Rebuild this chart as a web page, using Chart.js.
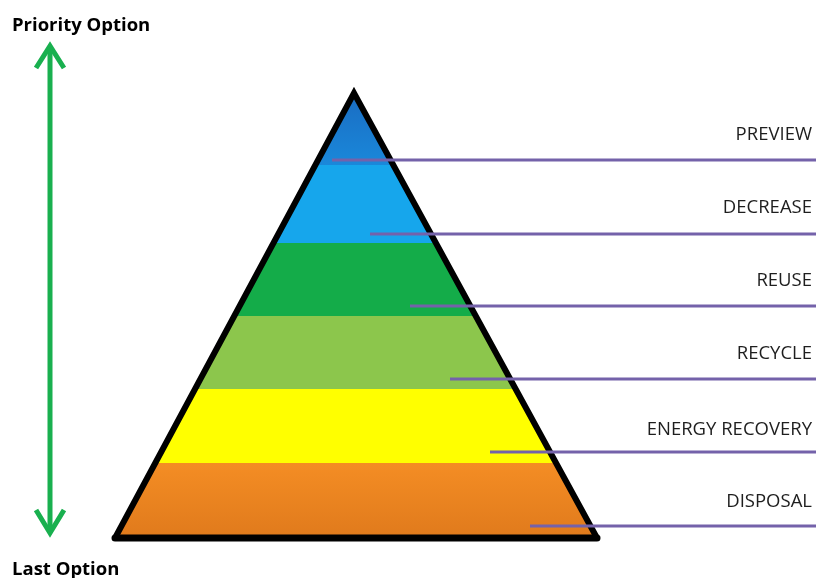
<!DOCTYPE html>
<html>
<head>
<meta charset="utf-8">
<script src="https://cdn.jsdelivr.net/npm/chart.js@4/dist/chart.umd.min.js"></script>
<style>
  html, body { margin: 0; padding: 0; background: #fff; }
  #wrap { width: 816px; height: 578px; }
</style>
</head>
<body>
<div id="wrap"><canvas id="pyramid" width="816" height="578"></canvas></div>
<script>
// waste hierarchy levels, top (priority) to bottom (last option)
const levels = ['PREVIEW', 'DECREASE', 'REUSE', 'RECYCLE', 'ENERGY RECOVERY', 'DISPOSAL'];
const bandColors = ['#1a78cc', '#16a6ec', '#14ac49', '#8cc64c', '#ffff00', '#f48d24'];
// band boundaries on the vertical axis (apex .. base)
const bandEdges = [93, 165, 243, 316, 389, 463, 538];
// pyramid outline: base left, apex, base right
const pyramidX = [115, 354, 597];
const pyramidY = [538, 93, 538];
// leader lines: start x and y for each level, label y
const leaderStartX = [332, 370, 410, 450, 490, 530];
const leaderY = [160, 234, 306, 379, 452, 526];
const labelY = [135, 208, 281, 354, 430, 502];
const topTitle = 'Priority Option';
const bottomTitle = 'Last Option';

const W = 816, H = 578;

function bandGradient(context) {
  const chart = context.chart;
  const { ctx, chartArea, scales } = chart;
  if (!chartArea) return bandColors[0];
  const y0 = scales.y.getPixelForValue(bandEdges[0]);
  const y1 = scales.y.getPixelForValue(bandEdges[bandEdges.length - 1]);
  const g = ctx.createLinearGradient(0, y0, 0, y1);
  const f = v => (scales.y.getPixelForValue(v) - y0) / (y1 - y0);
  for (let i = 0; i < levels.length; i++) {
    const a = f(bandEdges[i]), b = f(bandEdges[i + 1]);
    g.addColorStop(a, i === 0 ? '#1a6cc2' : bandColors[i]);
    g.addColorStop(b - 0.0005, i === 0 ? '#1a88da' : i === 5 ? '#e07a1c' : bandColors[i]);
  }
  g.addColorStop(1, '#e07a1c');
  return g;
}

const datasets = [];

levels.forEach((lvl, i) => {
  datasets.push({
    label: lvl,
    data: [{ x: leaderStartX[i], y: leaderY[i] }, { x: W, y: leaderY[i] }],
    borderColor: '#7462aa',
    borderWidth: 3,
    pointRadius: 0,
    fill: false,
    order: 0
  });
});

datasets.push({
  label: 'pyramid',
  data: pyramidX.map((x, i) => ({ x, y: pyramidY[i] })),
  borderColor: '#000',
  borderWidth: 6,
  borderJoinStyle: 'miter',
  backgroundColor: bandGradient,
  fill: { value: bandEdges[bandEdges.length - 1] },
  pointRadius: 0,
  tension: 0,
  order: 2
});
datasets.push({
  label: 'base',
  data: [{ x: pyramidX[0], y: pyramidY[0] }, { x: pyramidX[2], y: pyramidY[2] }],
  borderColor: '#000',
  borderWidth: 7,
  borderCapStyle: 'round',
  pointRadius: 0,
  fill: false,
  order: 1
});

// priority arrow
const arrowX = 50;
datasets.push({
  label: 'arrow',
  data: [{ x: arrowX, y: 46 }, { x: arrowX, y: 533 }],
  borderColor: '#19b04f', borderWidth: 5, pointRadius: 0, fill: false, order: 1
});
datasets.push({
  label: 'arrow-top',
  data: [{ x: 36, y: 68 }, { x: arrowX, y: 46 }, { x: 64, y: 68 }],
  borderColor: '#19b04f', borderWidth: 5, borderJoinStyle: 'miter', pointRadius: 0, fill: false, order: 1
});
datasets.push({
  label: 'arrow-bottom',
  data: [{ x: 36, y: 510 }, { x: arrowX, y: 533 }, { x: 64, y: 510 }],
  borderColor: '#19b04f', borderWidth: 5, borderJoinStyle: 'miter', pointRadius: 0, fill: false, order: 1
});

const textPlugin = {
  id: 'texts',
  afterDraw(chart) {
    const { ctx, scales } = chart;
    ctx.save();
    ctx.fillStyle = '#1e1e1e';
    ctx.font = '18.5px "Open Sans"';
    ctx.textAlign = 'right';
    ctx.textBaseline = 'middle';
    levels.forEach((lvl, i) => {
      ctx.fillText(lvl, scales.x.getPixelForValue(812), scales.y.getPixelForValue(labelY[i]));
    });
    ctx.fillStyle = '#000';
    ctx.font = 'bold 18.5px "Open Sans"';
    ctx.textAlign = 'left';
    ctx.fillText(topTitle, scales.x.getPixelForValue(12), scales.y.getPixelForValue(26));
    ctx.fillText(bottomTitle, scales.x.getPixelForValue(12), scales.y.getPixelForValue(570));
    ctx.restore();
  }
};

new Chart(document.getElementById('pyramid'), {
  type: 'line',
  data: { datasets },
  options: {
    responsive: false,
    animation: false,
    layout: { padding: 0 },
    plugins: { legend: { display: false }, tooltip: { enabled: false } },
    scales: {
      x: { type: 'linear', min: 0, max: W, display: false },
      y: { type: 'linear', min: 0, max: H, reverse: true, display: false }
    }
  },
  plugins: [textPlugin]
});
</script>
</body>
</html>
